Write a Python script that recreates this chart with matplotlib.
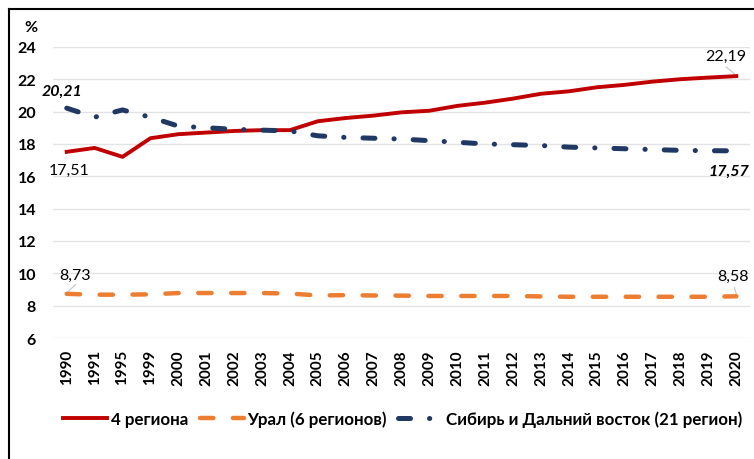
import matplotlib.pyplot as plt
from matplotlib.lines import Line2D

plt.rcParams['font.family'] = ['Lato', 'DejaVu Sans']

years = ["1990", "1991", "1995", "1999", "2000", "2001", "2002", "2003", "2004",
         "2005", "2006", "2007", "2008", "2009", "2010", "2011", "2012", "2013",
         "2014", "2015", "2016", "2017", "2018", "2019", "2020"]

regions4 = [17.51, 17.75, 17.2, 18.35, 18.6, 18.7, 18.8, 18.85, 18.85,
            19.4, 19.6, 19.75, 19.95, 20.05, 20.35, 20.55, 20.8, 21.1,
            21.25, 21.5, 21.65, 21.85, 22.0, 22.1, 22.19]
ural = [8.73, 8.68, 8.68, 8.7, 8.78, 8.78, 8.78, 8.78, 8.75,
        8.63, 8.65, 8.63, 8.62, 8.6, 8.6, 8.6, 8.6, 8.57,
        8.55, 8.55, 8.55, 8.55, 8.55, 8.55, 8.58]
siberia = [20.21, 19.65, 20.1, 19.65, 19.1, 19.0, 18.9, 18.85, 18.8,
           18.5, 18.4, 18.35, 18.3, 18.2, 18.1, 18.0, 17.95, 17.9,
           17.8, 17.75, 17.7, 17.65, 17.6, 17.58, 17.57]

labels = ["4 региона", "Урал (6 регионов)", "Сибирь и Дальний восток (21 регион)"]

fig = plt.figure(figsize=(7.54, 4.6), dpi=100)
ax = fig.add_axes([0.070, 0.263, 0.925, 0.633])

x = list(range(len(years)))
ax.plot(x, regions4, color="#C00000", lw=2.8, label=labels[0], zorder=3)
ax.plot(x, ural, color="#ED7D31", lw=3.2, linestyle=(0, (3.0, 4.4)),
        dash_capstyle="round", label=labels[1], zorder=3)
ax.plot(x, siberia, color="#203864", lw=3.6, linestyle=(0, (2.4, 3.8, 0.05, 3.8)),
        dash_capstyle="round", label=labels[2], zorder=3)

ax.set_xlim(-0.5, len(years) - 0.5)
ax.set_ylim(6, 24)
ax.set_yticks(range(6, 25, 2))
ax.set_xticks(x)
ax.set_xticklabels(years, rotation=90, fontsize=11, fontweight="bold")
for t in ax.get_yticklabels():
    t.set_fontsize(11.5)
    t.set_fontweight("bold")
ax.tick_params(axis="y", length=0, pad=12)
ax.tick_params(axis="x", length=0, pad=8)
ax.grid(axis="y", color="#e3e3e3", lw=1)
for s in ax.spines.values():
    s.set_visible(False)

ax.text(-0.032, 1.068, "%", transform=ax.transAxes, fontsize=11.5, fontweight="bold",
        ha="center", va="center")

# подписи данных
lab = dict(fontsize=11.5, ha="center", va="center")
ax.text(-0.18, 21.31, "20,21", fontweight="bold", style="italic", **lab)
ax.text(0.1, 16.4, "17,51", **lab)
ax.text(23.64, 23.42, "22,19", **lab)
ax.plot([23.64, 23.99], [22.75, 22.25], color="#bfbfbf", lw=0.7)
ax.text(23.75, 16.34, "17,57", fontweight="bold", style="italic", **lab)
ax.text(0.29, 9.88, "8,73", **lab)
ax.plot([0.0, 0.32], [8.8, 9.3], color="#bfbfbf", lw=0.7)
ax.text(23.9, 9.82, "8,58", **lab)
ax.plot([23.93, 24.04], [9.13, 8.5], color="#bfbfbf", lw=0.7)

leg = fig.legend(loc="center", bbox_to_anchor=(0.534, 0.088), ncol=3, frameon=False,
                 prop={"size": 12.2, "weight": "bold"}, handlelength=2.6,
                 columnspacing=0.7, handletextpad=0.2)

# рамка (слева и сверху)
fig.add_artist(Line2D([0.0115, 0.0115], [0.0, 0.978], color="black", lw=1.5,
                      transform=fig.transFigure))
fig.add_artist(Line2D([0.0115, 1.0], [0.978, 0.978], color="black", lw=1.5,
                      transform=fig.transFigure))

fig.savefig("out.png", dpi=100)
